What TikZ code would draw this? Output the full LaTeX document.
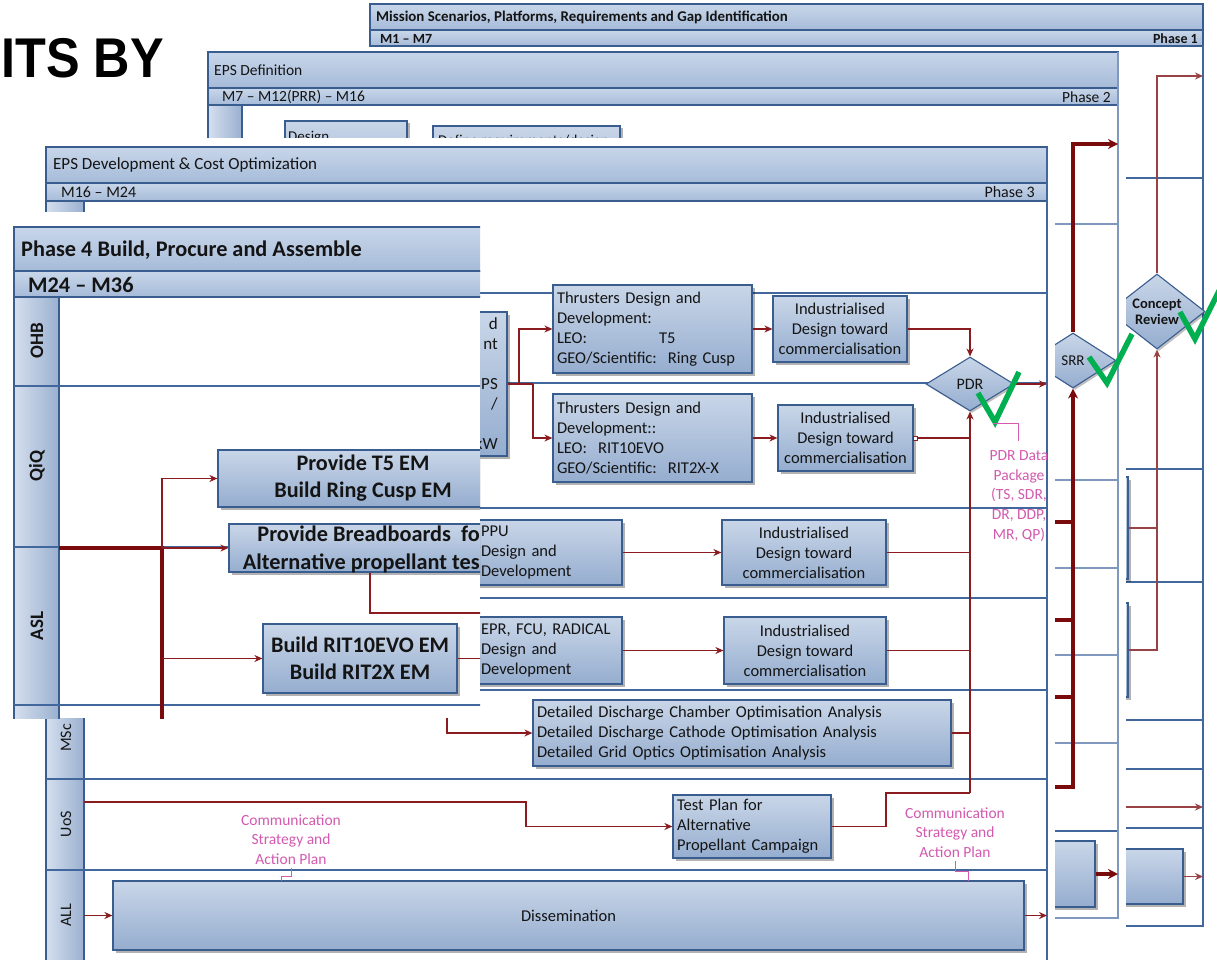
\documentclass[tikz,border=0pt]{standalone}
\usepackage{fontspec}
\setmainfont{Carlito}
\newfontfamily\headfont{Liberation Sans}
\usetikzlibrary{arrows.meta,shapes.geometric,shadows}

\definecolor{bdr}{HTML}{3A5D8F}
\definecolor{sepc}{HTML}{41679D}
\definecolor{sepl}{HTML}{8198BE}
\definecolor{bxtop}{HTML}{C9D6E8}
\definecolor{bxbot}{HTML}{95ADCF}
\definecolor{hdtop}{HTML}{C8D6E9}
\definecolor{hdbot}{HTML}{A6BBD9}
\definecolor{lnl}{HTML}{D5DFEE}
\definecolor{lnr}{HTML}{9AB0D0}
\definecolor{dred}{HTML}{8A1C20}
\definecolor{dredd}{HTML}{7A0B0D}
\definecolor{dredl}{HTML}{9A4346}
\definecolor{pinkc}{HTML}{D35AAE}
\definecolor{okgreen}{HTML}{00B050}
\definecolor{txt}{HTML}{141414}

\newcommand\fsz[2]{\fontsize{#1}{#2}\selectfont}

\tikzset{
  hdr/.style={draw=bdr, line width=1.1pt, top color=hdtop, bottom color=hdbot},
  lanecol/.style={draw=bdr, line width=1.1pt, left color=lnl, right color=lnr},
  sep/.style={draw=sepc, line width=1.1pt},
  sepsoft/.style={draw=sepl, line width=1.1pt},
  box/.style={draw=bdr, line width=1.2pt, top color=bxtop, bottom color=bxbot,
    drop shadow={shadow xshift=2.5pt, shadow yshift=-2.5pt, opacity=0.3, fill=black},
    inner sep=4pt, text=txt, font=\fsz{16.5}{20}},
  bigbox/.style={box, align=center, font=\bfseries\fsz{22.2}{27}},
  gate/.style={diamond, draw=bdr, line width=1.1pt, top color=bxtop, bottom color=bxbot,
    drop shadow={shadow xshift=2pt, shadow yshift=-2pt, opacity=0.25, fill=black},
    inner sep=0pt, text=txt},
  wire/.style={draw=dred, line width=1.3pt},
  arr/.style={wire, -{Stealth[length=8pt,width=7pt]}},
  wirel/.style={draw=dredl, line width=1.3pt},
  arrl/.style={wirel, -{Stealth[length=8pt,width=7pt]}},
  thk/.style={draw=dredd, line width=3.5pt},
  thkarr/.style={thk, -{Stealth[length=10pt,width=10pt]}},
  call/.style={draw=pinkc, line width=1pt},
  note/.style={text=pinkc, font=\fsz{15.5}{19.8}, align=center},
  tick/.style={draw=okgreen, line width=5.5pt, line join=miter},
  hdtext/.style={text=txt, inner sep=0pt},
  lanelbl/.style={rotate=90, text=txt, inner sep=0pt},
}

\begin{document}
\begin{tikzpicture}[x=1pt, y=-1pt]
\useasboundingbox[fill=white] (0,0) rectangle (1217,960);

% ---------------- Phase 1 (rear sheet) ----------------
\fill[white] (361,0) rectangle (1217,935);
\path[hdr] (370,4) rectangle (1203,30);
\path[hdr] (370,30) rectangle (1203,46);
\node[hdtext, anchor=west, font=\bfseries\fsz{14.9}{16}] (p1title) at (376,17)
  {Mission Scenarios, Platforms, Requirements and Gap Identification};
\node[hdtext, anchor=west, font=\bfseries\fsz{14}{16}] (p1span) at (380,38.5) {M1 -- M7};
\node[hdtext, anchor=east, font=\bfseries\fsz{14}{16}] (p1tag) at (1198,38.5) {Phase 1};
\draw[sep] (1203,46) -- (1203,926) -- (370,926);
\foreach \yy in {178,469,582,720,769,828} \draw[sep] (400,\yy) -- (1203,\yy);

\node[box, minimum width=118, minimum height=102] (pb1) at (1069,528) {};
\node[box, minimum width=118, minimum height=94] (pb2) at (1069,650) {};
\node[box, minimum width=93, minimum height=55] (pb3) at (1136.5,876.5) {};
\node[gate, minimum width=96, minimum height=63, align=center, font=\bfseries\fsz{14.5}{16}]
  (cr) at (1157,311.5) {Concept\\Review};

\coordinate (p1out) at (1203,76);
\coordinate (p1feed) at (1100,807);
\coordinate (p1feedend) at (1203,807);
\coordinate (p1boxend) at (1203,876.5);
\draw[arrl] (cr.north) |- (p1out);
\draw[wirel] (pb1.east) -- (1157,528);
\draw[arrl] (pb2.east) -| (cr.south);
\draw[arrl] (p1feed) -- (p1feedend);
\draw[arrl] (pb3.east) -- (p1boxend);
\draw[tick] (1180,312) -- (1195,339) -- (1223,283);

% ---------------- Phase 2 ----------------
\fill[white] (199,48) rectangle (1126,928);
\path[hdr] (208,52) rectangle (1118,88);
\path[hdr] (208,88) rectangle (1118,105);
\node[hdtext, anchor=west, font=\fsz{15.5}{17}] (p2title) at (214,70) {EPS Definition};
\node[hdtext, anchor=west, font=\fsz{15.5}{17}] (p2span) at (222,97) {M7 -- M12(PRR) -- M16};
\node[hdtext, anchor=east, font=\fsz{15.5}{17}] (p2tag) at (1111,97) {Phase 2};
\path[lanecol] (208,105) rectangle (242,918);
\foreach \yy in {224,480,568,655,743} \draw[sepsoft] (242,\yy) -- (1118,\yy);
\draw[sep] (242,831) -- (1118,831);
\draw[sepsoft] (1118,52) -- (1118,918) -- (208,918);

\node[box, minimum width=122, minimum height=80] (p2a) at (346,161) {};
\node[hdtext, anchor=west, font=\fsz{15}{17}] (p2at) at (288,138) {Design};
\node[box, minimum width=187, minimum height=80] (p2b) at (526.5,166) {};
\node[hdtext, anchor=west, font=\fsz{15}{17}] (p2bt) at (438,142) {Define requirements/design};

\node[gate, minimum width=86, minimum height=55, font=\fsz{15}{16}] (srr) at (1073,360.5) {SRR};
\coordinate (p2out) at (1118,144);
\coordinate (p2in1) at (1040,522);
\coordinate (p2in2) at (1040,620);
\coordinate (p2in3) at (1040,697);
\coordinate (p2in4) at (1040,787);
\draw[thkarr] (srr.north) |- (p2out);
\draw[thk] (p2in1) -- (1073,522);
\draw[thk] (p2in2) -- (1073,620);
\draw[thk] (p2in3) -- (1073,697);
\draw[thkarr] (p2in4) -| (srr.south);
\node[box, minimum width=95, minimum height=66] (p2d) at (1047.5,874) {};
\coordinate (p2dend) at (1118,874);
\draw[thkarr] (p2d.east) -- (p2dend);
\draw[tick] (1089,357) -- (1107,383) -- (1132,334);

% ---------------- Phase 3 ----------------
\fill[white] (37,138) rectangle (1055,965);
\path[hdr] (46,147) rectangle (1047,183);
\path[hdr] (46,183) rectangle (1047,201);
\node[hdtext, anchor=west, font=\fsz{17}{19}] (p3title) at (53,165) {EPS Development \& Cost Optimization};
\node[hdtext, anchor=west, font=\fsz{16}{18}] (p3span) at (61,192) {M16 -- M24};
\node[hdtext, anchor=east, font=\fsz{16}{18}] (p3tag) at (1035,192) {Phase 3};
\path[lanecol] (46,201) rectangle (84,965);
\foreach \yy in {293,383,508,598,690} \draw[sep] (84,\yy) -- (1047,\yy);
\foreach \yy in {779,870} \draw[sep] (46,\yy) -- (1047,\yy);
\draw[sep] (1047,147) -- (1047,965);
\node[lanelbl, font=\fsz{16}{17}] (lmsc) at (66,738) {MSc};
\node[lanelbl, font=\fsz{16}{17}] (luos) at (66,824) {UoS};
\node[lanelbl, font=\fsz{16}{17}] (lall) at (66,915) {ALL};

\node[box, minimum width=67, minimum height=144] (pbox) at (473.5,384) {};
\node[hdtext, anchor=east, align=right, font=\fsz{17}{20}] (pboxt) at (498,384)
  {d\\nt\\\mbox{}\\PS\\/\\\mbox{}\\kW};

\node[box, text width=191, minimum height=88, align=left] (t1) at (652.5,329)
  {Thrusters Design and\\Development:\\\makebox[102pt][l]{LEO:}T5\\GEO/Scientific:\ \ Ring Cusp};
\node[box, text width=191, minimum height=88, align=left] (t2) at (652.5,438)
  {Thrusters Design and\\Development::\\LEO:\ \ RIT10EVO\\GEO/Scientific:\ \ RIT2X-X};
\node[box, minimum width=134, minimum height=66, align=center] (i1) at (840,329)
  {Industrialised\\Design toward\\commercialisation};
\node[box, minimum width=135, minimum height=66, align=center] (i2) at (845.5,438)
  {Industrialised\\Design toward\\commercialisation};
\node[gate, minimum width=88, minimum height=54, font=\fsz{16}{17}] (pdr) at (970,384) {PDR};

\node[box, text width=137, minimum height=65, align=left] (ppu) at (549.5,552.5)
  {PPU\\Design and\\Development};
\node[box, minimum width=164, minimum height=65, align=center] (i3) at (804,552.5)
  {Industrialised\\Design toward\\commercialisation};
\node[box, text width=137, minimum height=67, align=left] (epr) at (549.5,650.5)
  {EPR, FCU, RADICAL\\Design and\\Development};
\node[box, minimum width=162, minimum height=67, align=center] (i4) at (805,650.5)
  {Industrialised\\Design toward\\commercialisation};
\node[box, text width=410, minimum height=66, align=left] (det) at (742,733)
  {Detailed Discharge Chamber Optimisation Analysis\\Detailed Discharge Cathode Optimisation Analysis\\Detailed Grid Optics Optimisation Analysis};
\node[box, text width=150, minimum height=63, align=left] (tp) at (752,826.5)
  {Test Plan for\\Alternative\\Propellant Campaign};
\node[box, minimum width=911, minimum height=69] (diss) at (568.5,915.5) {Dissemination};

\coordinate (fork1) at (519,384);
\coordinate (fork2) at (533,384);
\coordinate (pdrout) at (1047,384);
\coordinate (bus) at (970,793);
\coordinate (mscin) at (447,705);
\coordinate (uosin) at (84,802);
\coordinate (allin) at (84,915.5);
\coordinate (dissout) at (1047,915.5);

\draw[wire] (pbox.east) -- (fork2);
\draw[arr] (fork1) |- (t1.west);
\draw[arr] (fork2) |- (t2.west);
\draw[arr] (t1.east) -- (i1.west);
\draw[arr] (t2.east) -- (i2.west);
\draw[arr] (i1.east) -| (pdr.north);
\draw[arr] (pdr.east) -- (pdrout);
\draw[arr] (bus) -- (pdr.south);
\draw[wire] (i2.east) -- (970,438);
\draw[wire] (i3.east) -- (970,552.5);
\draw[wire] (i4.east) -- (970,650.5);
\draw[wire] (det.east) -- (970,733);
\draw[wire] (tp.east) -- (886,826.5) -- (886,793) -- (bus);
\node[draw=dred, fill=white, line width=0.8pt, minimum size=4pt, inner sep=0pt] (i2port) at ([xshift=2pt]i2.east) {};
\draw[arr] (ppu.east) -- (i3.west);
\draw[arr] (epr.east) -- (i4.west);
\draw[arr] (mscin) |- (det.west);
\draw[arr] (uosin) -- (526,802) -- (526,826.5) -- (tp.west);
\draw[arr] (allin) -- (diss.west);
\draw[arr] (diss.east) -- (dissout);

\draw[tick] (978,393) -- (995,422) -- (1019,372);
\draw[call] (993,423) -- (1018,423) -- (1018,441);
\node[note] (pdrpkg) at (1019,496) {PDR Data\\Package\\(TS, SDR,\\DR, DDP,\\MR, QP)};

\node[note] (comm1) at (291,839.5) {Communication\\Strategy and\\Action Plan};
\node[note] (comm2) at (955,832.5) {Communication\\Strategy and\\Action Plan};
\coordinate (c1end) at (281,881);
\coordinate (c2end) at (968,881);
\draw[call] (comm1.south) -- ++(0,8) -| (c1end);
\draw[call] (comm2.south) -- ++(0,10) -| (c2end);

% ---------------- Phase 4 (front sheet) ----------------
\begin{scope}
\clip (0,212) rectangle (480,718);
\fill[white] (0,212) rectangle (480,718);
\path[hdr] (14,227) rectangle (500,271);
\path[hdr] (14,271) rectangle (500,297);
\node[hdtext, anchor=west, font=\bfseries\fsz{22.3}{24}] (p4title) at (21,250) {Phase 4 Build, Procure and Assemble};
\node[hdtext, anchor=west, font=\bfseries\fsz{22.3}{24}] (p4span) at (28,284.5) {M24 -- M36};
\path[lanecol] (14,297) rectangle (59,730);
\foreach \yy in {386,547,705} \draw[sep] (14,\yy) -- (500,\yy);
\node[lanelbl, font=\bfseries\fsz{19}{20}] (lohb) at (37,341) {OHB};
\node[lanelbl, font=\bfseries\fsz{19}{20}] (lqiq) at (37,466) {QiQ};
\node[lanelbl, font=\bfseries\fsz{19}{20}] (lasl) at (37,626) {ASL};

\node[bigbox, minimum width=290, minimum height=57] (p4a) at (363,478.5)
  {Provide T5 EM\\Build Ring Cusp EM};
\node[box, minimum width=299, minimum height=48] (p4b) at (378.5,548) {};
\node[hdtext, anchor=east, align=right, font=\bfseries\fsz{22.3}{28}] (p4bt) at (480,549)
  {Provide Breadboards\ \ fo\\Alternative propellant tes};
\node[bigbox, minimum width=194, minimum height=69] (p4c) at (360,658.5)
  {Build RIT10EVO EM\\Build RIT2X EM};

\coordinate (p4in) at (59,548);
\coordinate (p4fork) at (162,548);
\coordinate (p4fork2) at (162,658.5);
\coordinate (p4down) at (162,730);
\draw[thk] (p4in) -- (p4fork) -- (p4down);
\draw[arr] (p4fork) |- (p4a.west);
\draw[arr] (p4fork) -- (p4b.west);
\draw[arr] (p4fork2) -- (p4c.west);
\draw[wire] ([xshift=-8.5pt]p4b.south) |- (500,613);
\draw[wire] (p4c.east) -- (500,658.5);
\end{scope}

% ---------------- heading fragment ----------------
\node[anchor=base east, inner sep=0pt, font=\headfont\bfseries\fsz{56}{60}] (ttl) at (164,78)
  {\scalebox{0.9}[1]{ITS BY}};
\end{tikzpicture}
\end{document}
